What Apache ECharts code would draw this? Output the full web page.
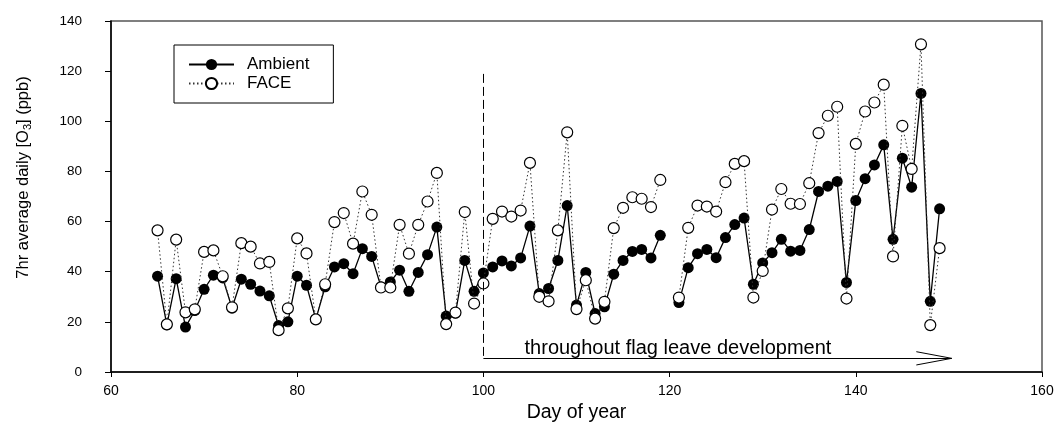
<!DOCTYPE html>
<html>
<head>
<meta charset="utf-8">
<script src="https://cdn.jsdelivr.net/npm/echarts@6/dist/echarts.min.js"></script>
<style>
html,body{margin:0;padding:0;background:#fff;}
#chart{width:1057px;height:428px;}
</style>
</head>
<body>
<div id="chart"></div>
<script>
// Day of year (day 120 has no measurement)
const days = [65,66,67,68,69,70,71,72,73,74,75,76,77,78,79,80,81,82,83,84,85,86,87,88,89,90,91,92,93,94,95,96,97,98,99,100,101,102,103,104,105,106,107,108,109,110,111,112,113,114,115,116,117,118,119,120,121,122,123,124,125,126,127,128,129,130,131,132,133,134,135,136,137,138,139,140,141,142,143,144,145,146,147,148,149];
const ambient = [38.2,18.8,37.2,17.9,24.5,33.0,38.6,37.5,25.5,37.0,
  35.0,32.3,30.4,18.5,20.0,38.2,34.6,21.0,34.0,41.9,
  43.2,39.2,49.2,46.1,34.0,35.9,40.6,32.2,39.7,46.8,
  57.8,22.3,23.5,44.5,32.2,39.5,41.9,44.3,42.3,45.5,
  58.2,31.3,33.3,44.5,66.4,26.7,39.7,23.3,26.0,39.0,
  44.5,48.1,48.9,45.5,54.5,null,27.7,41.6,47.2,48.9,
  45.6,53.6,58.8,61.4,35.0,43.5,47.6,52.9,48.2,48.5,
  56.8,72.0,74.1,76.0,35.7,68.4,77.1,82.6,90.6,52.9,
  85.3,73.7,111.1,28.2,65.1];
const face = [56.5,19.0,52.8,23.8,25.0,47.9,48.5,38.2,25.8,51.4,
  50.0,43.3,43.9,16.7,25.4,53.3,47.3,21.0,35.0,59.8,
  63.4,51.2,72.0,62.7,33.7,33.7,58.7,47.2,58.7,68.0,
  79.4,19.1,23.7,63.8,27.3,35.3,61.1,64.0,62.0,64.4,
  83.4,30.0,28.2,56.5,95.6,25.1,36.6,21.3,28.0,57.4,
  65.5,69.7,69.1,65.8,76.6,null,29.7,57.5,66.4,66.0,
  64.0,75.7,83.0,84.1,29.7,40.3,64.8,73.0,67.1,67.0,
  75.3,95.3,102.2,105.8,29.3,91.0,103.9,107.5,114.6,46.1,
  98.2,81.0,130.7,18.7,49.4];
const seriesNames = ['Ambient','FACE'];
const xTicks = [60,80,100,120,140,160];
const yTicks = [0,20,40,60,80,100,120,140];
// annotation (data coordinates)
const flagStart = 100, flagEnd = 150.3, flagLevel = 5.45, dashTop = 118.9;
const flagText = 'throughout flag leave development';
const flagTextPos = [120.9, 9.4];

const pairs = vals => days.map((d,i) => [d, vals[i] == null ? '-' : vals[i]]);
const FONT = '"Liberation Sans", Arial, sans-serif';

const chart = echarts.init(document.getElementById('chart'), null, {renderer:'canvas'});
chart.setOption({
  animation:false,
  backgroundColor:'#fff',
  grid:{left:111,right:15,top:21,bottom:56,show:true,borderColor:'#555',borderWidth:1.5,containLabel:false},
  legend:{
    data:seriesNames, orient:'vertical', left:174, top:45,
    itemWidth:45, itemHeight:14, itemGap:2,
    padding:[11,24,11,14],
    borderColor:'#000', borderWidth:1, backgroundColor:'#fff',
    textStyle:{fontFamily:FONT,fontSize:17,lineHeight:15,color:'#000',padding:[0,0,0,8]}
  },
  xAxis:{
    type:'value', min:xTicks[0], max:xTicks[xTicks.length-1], interval:20,
    name:'Day of year', nameLocation:'middle', nameGap:29,
    nameTextStyle:{fontFamily:FONT,fontSize:19.5,color:'#000'},
    axisLine:{lineStyle:{color:'#000',width:1.5}},
    axisTick:{length:5,lineStyle:{color:'#000',width:1}},
    axisLabel:{fontFamily:FONT,fontSize:14,color:'#000',margin:12},
    splitLine:{show:false}
  },
  yAxis:{
    type:'value', min:yTicks[0], max:yTicks[yTicks.length-1], interval:20,
    name:'7hr average daily [O{s|3}] (ppb)', nameLocation:'middle', nameGap:78,
    nameTextStyle:{fontFamily:FONT,fontSize:16.5,color:'#000',padding:[0,0,0,38],
      rich:{s:{fontFamily:FONT,fontSize:11,color:'#000',padding:[9,0,0,0]}}},
    axisLine:{lineStyle:{color:'#000',width:1.5}},
    axisTick:{length:6,lineStyle:{color:'#000',width:1}},
    axisLabel:{fontFamily:FONT,fontSize:13.5,color:'#000',margin:29},
    splitLine:{show:false}
  },
  series:[
    {
      name:seriesNames[0], type:'line', data:pairs(ambient), connectNulls:false,
      symbol:'circle', symbolSize:11,
      itemStyle:{color:'#000'},
      lineStyle:{color:'#000',width:1.3,type:'solid'},
      z:2,
      markLine:{
        silent:true, symbol:['none','none'], label:{show:false},
        lineStyle:{color:'#000',width:1,type:'solid'},
        data:[
          [{coord:[flagStart,dashTop],lineStyle:{type:[9,4]}},{coord:[flagStart,flagLevel]}],
          [{coord:[flagStart,flagLevel]},{coord:[flagEnd,flagLevel]}],
          [{coord:[flagEnd-3.8,flagLevel+2.65]},{coord:[flagEnd,flagLevel]}],
          [{coord:[flagEnd-3.8,flagLevel-2.65]},{coord:[flagEnd,flagLevel]}]
        ]
      },
      markPoint:{
        silent:true, symbol:'circle', symbolSize:0,
        label:{show:true,position:'inside',formatter:flagText,fontFamily:FONT,fontSize:20,color:'#000'},
        data:[{coord:flagTextPos}]
      }
    },
    {
      name:seriesNames[1], type:'line', data:pairs(face), connectNulls:false,
      symbol:'circle', symbolSize:11,
      itemStyle:{color:'#fff',borderColor:'#000',borderWidth:1.2},
      lineStyle:{color:'#333',width:1,type:[1.5,2.5]},
      z:3
    }
  ]
});
</script>
</body>
</html>
